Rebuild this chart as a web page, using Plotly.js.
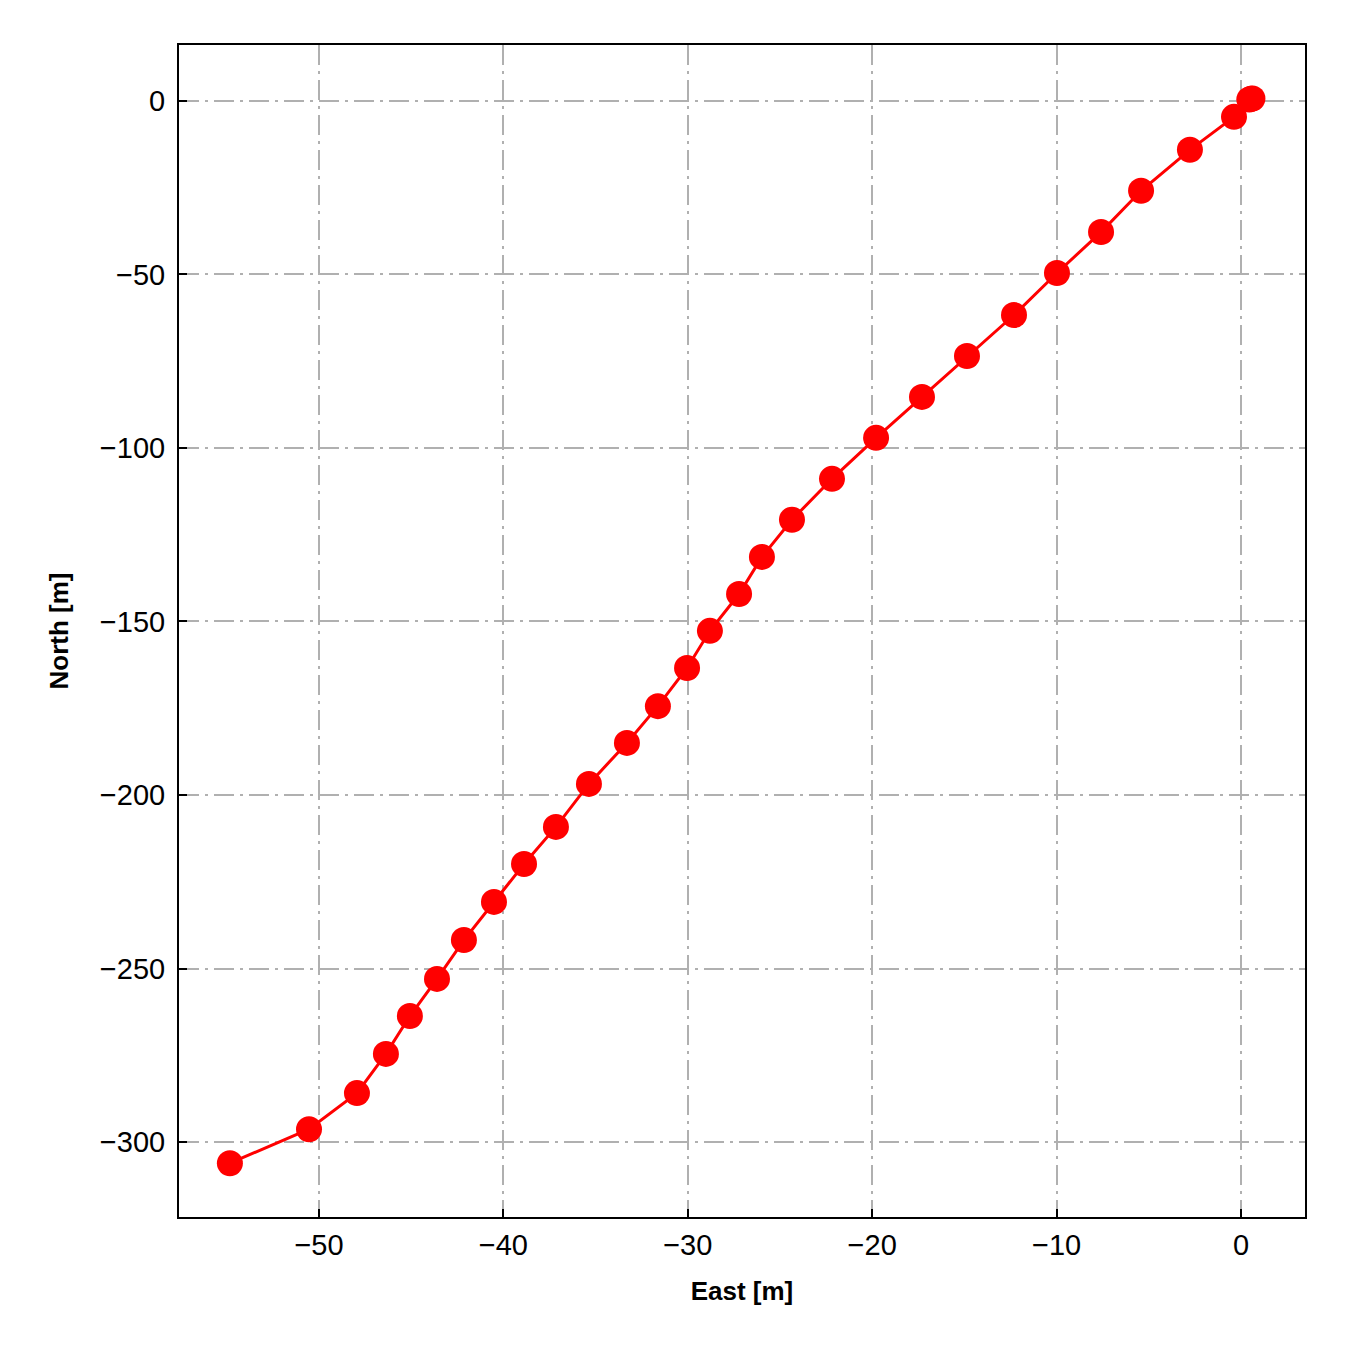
<!DOCTYPE html>
<html>
<head>
<meta charset="utf-8">
<script src="https://cdn.plot.ly/plotly-3.0.1.min.js"></script>
<style>html,body{margin:0;padding:0;background:#fff;}</style>
</head>
<body>
<div id="chart" style="width:1350px;height:1350px;"></div>
<script>
const east = [-54.83, -50.54, -47.94, -46.37, -45.07, -43.60, -42.14, -40.51, -38.88, -37.15,
  -35.36, -33.30, -31.62, -30.04, -28.80, -27.22, -25.98, -24.35, -22.18, -19.79,
  -17.30, -14.86, -12.31, -9.98, -7.59, -5.42, -2.77, -0.38, 0.45, 0.55, 0.62];
const north = [-306.1, -296.3, -285.9, -274.6, -263.7, -253.0, -241.8, -230.8, -219.9, -209.2,
  -196.8, -185.0, -174.4, -163.4, -152.7, -142.1, -131.4, -120.7, -108.9, -97.1,
  -85.3, -73.5, -61.7, -49.6, -37.8, -25.9, -14.1, -4.6, 0.4, 0.6, 0.7];
const xTicks = [-50, -40, -30, -20, -10, 0];
const yTicks = [0, -50, -100, -150, -200, -250, -300];

const fam = 'Liberation Sans, Arial, sans-serif';
const gridDash = '20px,6px,3px,6px';

Plotly.newPlot('chart', [{
  x: east, y: north, type: 'scatter', mode: 'lines+markers',
  line: {color: '#ff0000', width: 3},
  marker: {color: '#ff0000', size: 26},
  showlegend: false
}], {
  width: 1350, height: 1350,
  margin: {l: 179, r: 45, t: 45, b: 133},
  paper_bgcolor: '#fff', plot_bgcolor: '#fff',
  font: {family: fam, color: '#000'},
  xaxis: {
    range: [-57.59, 3.47], tickvals: xTicks,
    ticks: 'inside', ticklen: 8, tickwidth: 2, tickcolor: '#000',
    tickfont: {size: 29, family: fam, color: '#000'},
    showline: true, linecolor: '#000', linewidth: 2, mirror: true,
    showgrid: true, gridcolor: '#b0b0b0', gridwidth: 2, griddash: gridDash,
    zeroline: false, ticklabelstandoff: 1,
    title: {text: '<b>East [m]</b>', font: {size: 26, family: fam, color: '#000'}, standoff: 22}
  },
  yaxis: {
    range: [-321.6, 16.1], tickvals: yTicks,
    ticks: 'inside', ticklen: 8, tickwidth: 2, tickcolor: '#000',
    tickfont: {size: 29, family: fam, color: '#000'},
    showline: true, linecolor: '#000', linewidth: 2, mirror: true,
    showgrid: true, gridcolor: '#b0b0b0', gridwidth: 2, griddash: gridDash,
    zeroline: false, ticklabelstandoff: 6,
    title: {text: '<b>North [m]</b>', font: {size: 26, family: fam, color: '#000'}, standoff: 24}
  }
}, {displayModeBar: false, staticPlot: true});
</script>
</body>
</html>
